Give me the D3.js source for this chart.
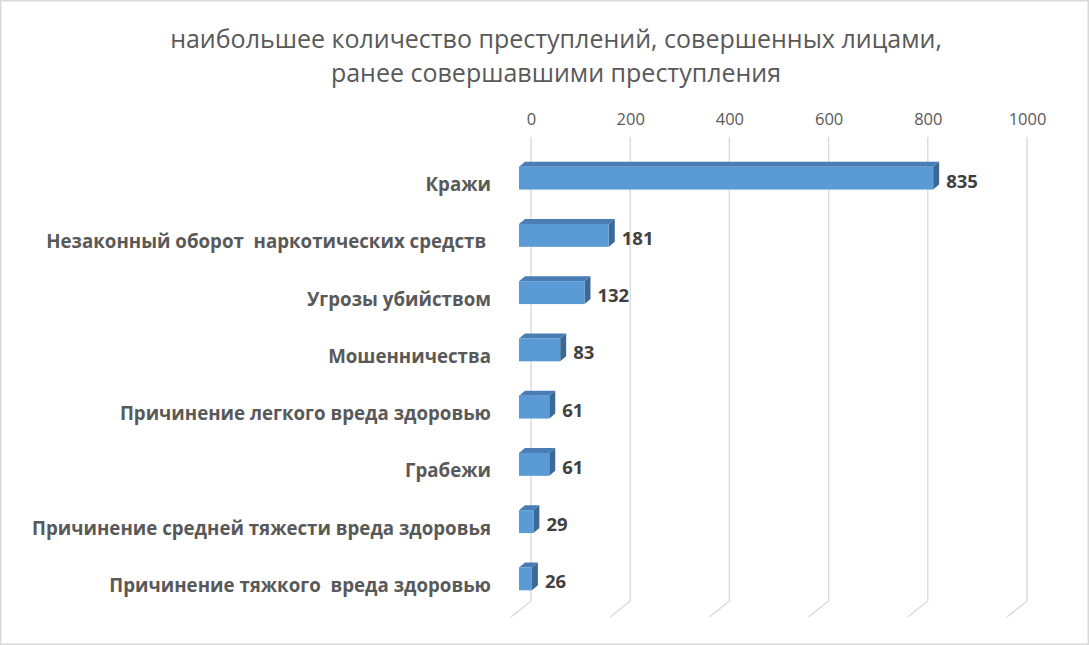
<!DOCTYPE html>
<html>
<head>
<meta charset="utf-8">
<script src="https://cdn.jsdelivr.net/npm/d3@7/dist/d3.min.js"></script>
<style>
  html, body { margin: 0; padding: 0; background: #fff; }
  svg { display: block; }
</style>
</head>
<body>
<svg id="chart" width="1089" height="645"></svg>
<script>
// ---- data ----
const titleLines = ["наибольшее количество преступлений, совершенных лицами,", "ранее совершавшими преступления"];
const categories = [
  "Кражи",
  "Незаконный оборот  наркотических средств ",
  "Угрозы убийством",
  "Мошенничества",
  "Причинение легкого вреда здоровью",
  "Грабежи",
  "Причинение средней тяжести вреда здоровья",
  "Причинение тяжкого  вреда здоровью"
];
const values = [835, 181, 132, 83, 61, 61, 29, 26];
const tickValues = [0, 200, 400, 600, 800, 1000];

// ---- layout ----
const W = 1089, H = 645;
const FONT = "'Open Sans', 'Liberation Sans', sans-serif";
const svg = d3.select("#chart");

svg.append("rect").attr("x", 0.75).attr("y", 0.75).attr("width", W - 1.5).attr("height", H - 1.5)
  .attr("fill", "#fff").attr("stroke", "#d9d9d9").attr("stroke-width", 1.5);

const x = d3.scaleLinear().domain([0, 1000]).range([531, 1027]);
const y = d3.scaleBand().domain(categories).range([149.5, 607.5]).padding(0);
const step = y.bandwidth();
const barH = step * 0.4;

// 3D offsets
const front = { dx: -12, dy: 9 };   // bar front relative to back wall
const depth = { dx: 6, dy: -5 };    // bar depth
const floor = { dx: -20, dy: 16 };  // floor depth
const gridTop = 137, gridBottom = 601;

// title
svg.append("g").selectAll("text").data(titleLines).join("text")
  .attr("x", 556).attr("y", (d, i) => 48 + i * 34)
  .attr("text-anchor", "middle")
  .attr("font-family", FONT).attr("font-size", 25).attr("fill", "#595959")
  .text(d => d);

// gridlines (back wall + floor slant)
svg.append("g").selectAll("path").data(tickValues).join("path")
  .attr("d", d => `M${x(d)},${gridTop}V${gridBottom}l${floor.dx},${floor.dy}`)
  .attr("fill", "none").attr("stroke", "#d9d9d9").attr("stroke-width", 1.3);

// axis on top
const axis = d3.axisTop(x).tickValues(tickValues).tickFormat(d3.format("d")).tickSize(0).tickPadding(3);
const ag = svg.append("g").attr("transform", "translate(0,128)").call(axis);
ag.select(".domain").remove();
ag.selectAll("text").attr("font-family", FONT).attr("font-size", 16.5).attr("fill", "#595959");

// bars
const bars = svg.append("g").selectAll("g").data(categories).join("g");
bars.each(function (c, i) {
  const g = d3.select(this);
  const cy = y(c) + step / 2;
  const x0 = x(0) + front.dx, x1 = x(values[i]) + front.dx;
  const y0 = cy - barH / 2, y1 = cy + barH / 2;
  // top face
  g.append("path")
    .attr("d", `M${x0},${y0}L${x0 + depth.dx},${y0 + depth.dy}L${x1 + depth.dx},${y0 + depth.dy}L${x1},${y0}Z`)
    .attr("fill", "#4a7db3");
  // side face
  g.append("path")
    .attr("d", `M${x1},${y0}L${x1 + depth.dx},${y0 + depth.dy}L${x1 + depth.dx},${y1 + depth.dy}L${x1},${y1}Z`)
    .attr("fill", "#3b6996");
  // front face
  g.append("rect").attr("x", x0).attr("y", y0).attr("width", x1 - x0).attr("height", barH)
    .attr("fill", "#5b9bd5");
});

// category labels
svg.append("g").selectAll("text").data(categories).join("text")
  .attr("x", 491).attr("y", c => y(c) + step / 2 + 13)
  .attr("text-anchor", "end")
  .attr("font-family", FONT).attr("font-weight", "bold").attr("font-size", 18.7)
  .attr("fill", "#595959")
  .attr("xml:space", "preserve").style("white-space", "pre")
  .text(c => c);

// value labels
svg.append("g").selectAll("text").data(values).join("text")
  .attr("x", (d) => x(d) + 1)
  .attr("y", (d, i) => y(categories[i]) + step / 2 + 9.5)
  .attr("font-family", FONT).attr("font-weight", "bold").attr("font-size", 18.5)
  .attr("fill", "#404040")
  .text(d => d);
</script>
</body>
</html>
